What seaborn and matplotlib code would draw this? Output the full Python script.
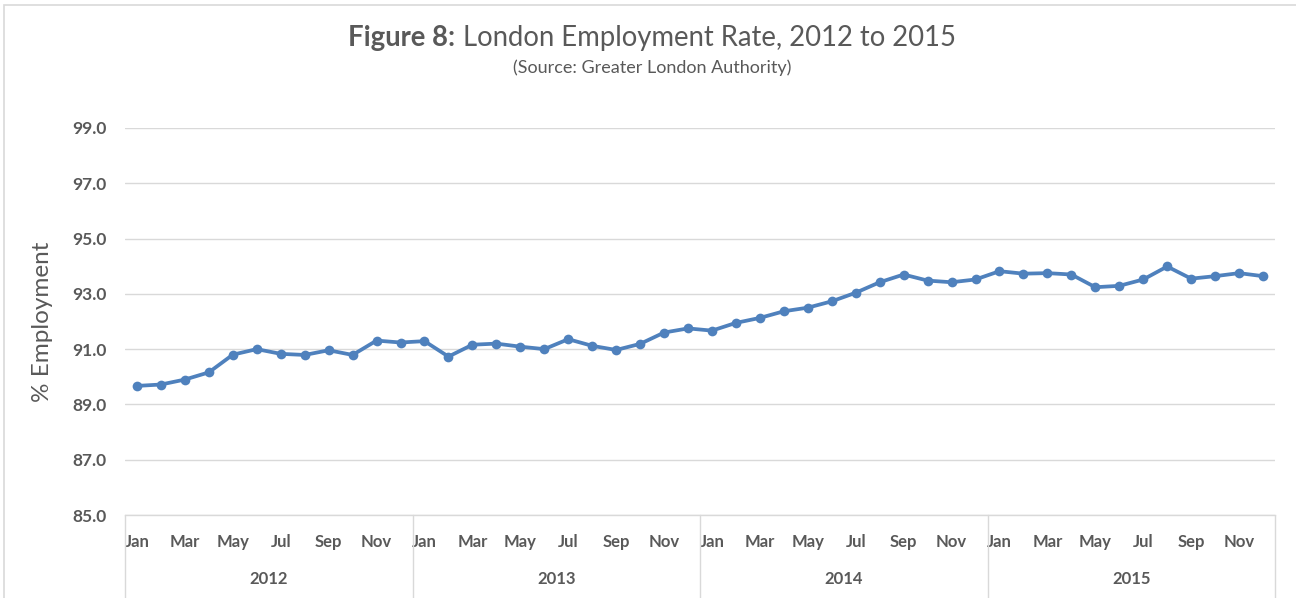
import numpy as np
import pandas as pd
import matplotlib
matplotlib.use("Agg")
import matplotlib.pyplot as plt
import matplotlib.transforms as mtransforms
from matplotlib.patches import Rectangle
import seaborn as sns

years = [2012, 2013, 2014, 2015]
months = ["Jan", "Feb", "Mar", "Apr", "May", "Jun",
          "Jul", "Aug", "Sep", "Oct", "Nov", "Dec"]

rate_2012 = [89.67, 89.72, 89.90, 90.16, 90.80, 91.00,
             90.83, 90.79, 90.96, 90.79, 91.31, 91.24]
rate_2013 = [91.29, 90.73, 91.16, 91.20, 91.09, 91.00,
             91.36, 91.12, 90.97, 91.19, 91.60, 91.75]
rate_2014 = [91.67, 91.95, 92.13, 92.37, 92.50, 92.73,
             93.04, 93.42, 93.70, 93.48, 93.42, 93.52]
rate_2015 = [93.82, 93.73, 93.75, 93.70, 93.24, 93.29,
             93.52, 93.99, 93.55, 93.64, 93.75, 93.64]

df = pd.DataFrame({
    "Year": np.repeat(years, 12),
    "Month": months * 4,
    "Rate": rate_2012 + rate_2013 + rate_2014 + rate_2015,
})
df["idx"] = np.arange(len(df))

sns.set_theme(style="white")
plt.rcParams["font.family"] = ["Lato", "DejaVu Sans"]

grey = "#595959"
line_col = "#4F81BD"
grid_col = "#D9D9D9"

fig = plt.figure(figsize=(12.96, 5.98), dpi=100)
ax = fig.add_axes([125 / 1296, 1 - 515 / 598, 1150 / 1296, (515 - 128) / 598])

sns.lineplot(data=df, x="idx", y="Rate", ax=ax, color=line_col, linewidth=2.7,
             marker="o", markersize=7, markeredgewidth=0, clip_on=False)

ax.set_xlim(-0.5, len(df) - 0.5)
ax.set_ylim(85, 99)
ax.set_yticks(np.arange(85, 100, 2))
ax.set_yticklabels([f"{v:.1f}" for v in np.arange(85, 100, 2)],
                   fontweight="bold", color=grey, fontsize=12.5)
ax.grid(axis="y", color=grid_col, linewidth=1)
ax.grid(axis="x", visible=False)
ax.set_axisbelow(True)

tick_pos = df["idx"][::2]
ax.set_xticks(tick_pos)
ax.set_xticklabels(df["Month"][::2], fontweight="bold", color=grey, fontsize=12)
ax.tick_params(axis="x", length=0, pad=14)
ax.tick_params(axis="y", length=0, pad=13)

for side in ["top", "right", "left"]:
    ax.spines[side].set_visible(False)
ax.spines["bottom"].set_color(grid_col)
ax.spines["bottom"].set_linewidth(1)

ax.set_xlabel("")
ax.set_ylabel("% Employment", color=grey, fontsize=17.5)
ax.yaxis.set_label_coords(-72 / 1150, 0.5)

# year band below month labels
trans = mtransforms.blended_transform_factory(ax.transData, ax.transAxes)
for i, yr in enumerate(years):
    ax.text(i * 12 + 5.5, -64 / 387, str(yr), transform=trans, ha="center", va="center",
            fontweight="bold", color=grey, fontsize=12)
for b in range(len(years) + 1):
    ax.plot([b * 12 - 0.5, b * 12 - 0.5], [0, -85 / 387], transform=trans,
            color=grid_col, linewidth=1, clip_on=False)

# title: bold prefix + normal text
fig.canvas.draw()
renderer = fig.canvas.get_renderer()
t1 = fig.text(0, 1 - 38 / 598, "Figure 8:", fontweight="bold", fontsize=19.8, color=grey, va="center")
t2 = fig.text(0, 1 - 38 / 598, " London Employment Rate, 2012 to 2015", fontsize=19.8, color=grey, va="center")
w1 = t1.get_window_extent(renderer).width
w2 = t2.get_window_extent(renderer).width
x0 = (652 - (w1 + w2) / 2) / 1296
t1.set_x(x0)
t2.set_x(x0 + w1 / 1296)
fig.text(652 / 1296, 1 - 68 / 598, "(Source: Greater London Authority)",
         fontsize=13, color=grey, ha="center", va="center")

fig.patches.append(Rectangle((4 / 1296, -0.02), 1.0, 1.0 - 5 / 598 + 0.02,
                             transform=fig.transFigure, fill=False,
                             edgecolor=grid_col, linewidth=1.2))

fig.savefig("out.png", dpi=100)
